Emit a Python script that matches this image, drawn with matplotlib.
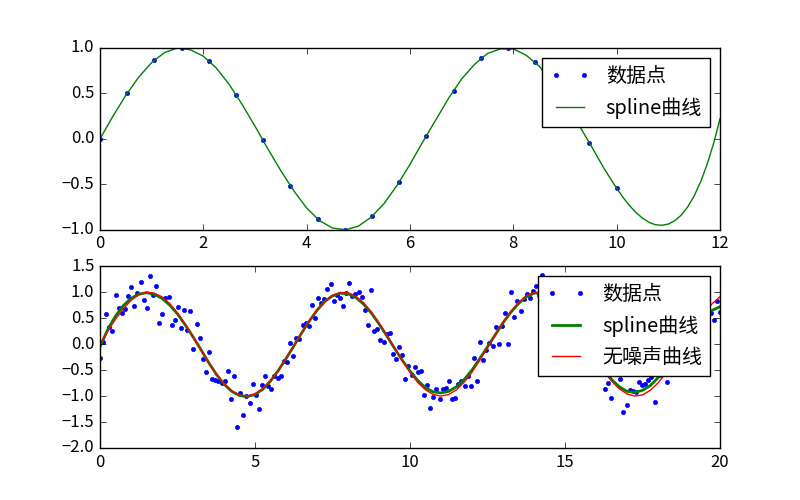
import matplotlib
matplotlib.use('Agg')
import matplotlib.pyplot as plt
import numpy as np

# ---------------- data ----------------
# top panel: sample points and spline curve
top_pts_x = np.linspace(0, 10, 20)
top_pts_y = [0.000, 0.502, 0.869, 1.000, 0.861, 0.488, -0.017, -0.517, -0.879, -0.9997,
             -0.851, -0.474, 0.033, 0.530, 0.886, 0.999, 0.848, 0.458, -0.050, -0.544]

top_curve_x = np.concatenate([np.arange(0, 9.99, 0.25), np.arange(10, 12.001, 0.125)])
top_curve_y = [0.00, 0.25, 0.48, 0.68, 0.84, 0.95, 1.00, 0.98, 0.91, 0.78,
               0.60, 0.38, 0.14, -0.11, -0.35, -0.57, -0.76, -0.90, -0.98, -1.00,
               -0.96, -0.86, -0.71, -0.51, -0.28, -0.03, 0.21, 0.45, 0.66, 0.82,
               0.94, 0.99, 0.99, 0.92, 0.80, 0.62, 0.41, 0.17, -0.07, -0.32,
               -0.544, -0.645, -0.734, -0.810, -0.872, -0.918, -0.944, -0.950, -0.937,
               -0.900, -0.838, -0.748, -0.627, -0.472, -0.281, -0.052, 0.22]

# bottom panel: noisy points
noisy_x = np.linspace(0, 20, 200)
noisy_y = [
    -0.27, 0.05, 0.58, 0.32, 0.26, 0.94, 0.69, 0.60, 0.67, 0.92,
    1.10, 0.73, 0.98, 1.19, 0.85, 0.69, 1.31, 0.94, 1.12, 0.40,
    0.58, 0.88, 0.90, 0.37, 0.47, 0.71, 0.31, 0.66, 0.27, 0.64,
    -0.10, 0.38, 0.12, -0.29, -0.54, -0.15, -0.67, -0.69, -0.71, -0.74,
    -0.71, -0.52, -1.06, -0.62, -1.60, -0.94, -1.37, -0.99, -1.13, -0.77,
    -0.98, -1.25, -0.79, -0.62, -0.80, -0.87, -0.62, -0.66, -0.62, -0.33,
    -0.35, 0.02, -0.23, 0.12, 0.10, 0.37, 0.40, 0.35, 0.75, 0.50,
    0.88, 0.79, 0.87, 1.06, 1.15, 0.83, 0.95, 0.88, 0.73, 0.98,
    1.17, 0.93, 0.96, 1.01, 0.90, 0.66, 0.37, 1.04, 0.25, 0.29,
    0.08, 0.04, 0.19, 0.21, -0.19, -0.29, -0.06, -0.21, -0.67, -0.42,
    -0.60, -0.44, -0.54, -0.52, -0.98, -0.79, -1.23, -1.02, -0.87, -1.06,
    -0.87, -0.85, -0.71, -1.06, -1.04, -0.77, -0.71, -0.80, -0.61, -0.80,
    -0.27, -0.71, 0.04, -0.31, -0.12, 0.02, -0.04, 0.33, 0.00, 0.35,
    0.60, 0.00, 1.00, 0.52, 0.83, 0.63, 0.87, 0.96, 0.88, 1.03,
    1.12, 0.95, 1.33, 1.05, 0.85, 1.00, 0.70, 0.95, 0.60, 0.75,
    0.50, 0.55, 0.30, 0.45, 0.10, 0.25, -0.10, 0.00, -0.30, -0.20,
    -0.45, -0.35, -0.87, -0.75, -1.04, -0.55, -0.50, -0.67, -1.30, -1.17,
    -0.88, -0.90, -0.93, -0.72, -0.78, -0.77, -0.70, -0.64, -1.11, -0.58,
    -0.60, -0.50, -0.72, -0.35, -0.55, -0.20, -0.05, -0.30, 0.10, 0.00,
    0.35, 0.15, 0.50, 0.30, 0.70, 0.45, 0.60, 0.47, 0.83, 0.62]

# bottom panel: spline (green) and noise-free (red) curves
bot_curve_x = np.arange(0, 20.001, 0.25)
spline_y = [-0.05, 0.28, 0.54, 0.74, 0.88, 0.96, 0.99, 0.96, 0.88, 0.75,
            0.58, 0.37, 0.14, -0.10, -0.35, -0.58, -0.77, -0.91, -0.99, -1.01,
            -0.97, -0.87, -0.71, -0.51, -0.28, -0.04, 0.21, 0.44, 0.65, 0.82,
            0.93, 0.98, 0.97, 0.90, 0.77, 0.60, 0.39, 0.16, -0.08, -0.31,
            -0.52, -0.70, -0.84, -0.92, -0.94, -0.91, -0.82, -0.68, -0.50, -0.28,
            -0.05, 0.18, 0.41, 0.61, 0.78, 0.91, 0.98, 0.99, 0.93, 0.81,
            0.64, 0.43, 0.20, -0.04, -0.27, -0.49, -0.68, -0.82, -0.91, -0.93,
            -0.89, -0.80, -0.65, -0.47, -0.26, -0.04, 0.17, 0.37, 0.53, 0.65,
            0.72]
clean_y = [0.00, 0.25, 0.48, 0.68, 0.84, 0.95, 1.00, 0.98, 0.91, 0.78,
           0.60, 0.38, 0.14, -0.11, -0.35, -0.57, -0.76, -0.90, -0.98, -1.00,
           -0.96, -0.86, -0.71, -0.51, -0.28, -0.03, 0.21, 0.45, 0.66, 0.82,
           0.94, 0.99, 0.99, 0.92, 0.80, 0.62, 0.41, 0.17, -0.07, -0.32,
           -0.54, -0.74, -0.88, -0.97, -1.00, -0.97, -0.88, -0.73, -0.54, -0.31,
           -0.07, 0.18, 0.42, 0.63, 0.80, 0.93, 0.99, 0.99, 0.94, 0.82,
           0.65, 0.44, 0.21, -0.04, -0.29, -0.52, -0.71, -0.86, -0.96, -1.00,
           -0.98, -0.89, -0.75, -0.56, -0.34, -0.10, 0.15, 0.39, 0.61, 0.78,
           0.91]

labels = ['数据点', 'spline曲线', '无噪声曲线']
top_xticks = [0, 2, 4, 6, 8, 10, 12]
top_yticks = [-1.0, -0.5, 0.0, 0.5, 1.0]
bot_xticks = [0, 5, 10, 15, 20]
bot_yticks = [-2.0, -1.5, -1.0, -0.5, 0.0, 0.5, 1.0, 1.5]

# ---------------- plot ----------------
plt.style.use('classic')
plt.rcParams['font.family'] = ['Noto Sans CJK SC', 'DejaVu Sans']
plt.rcParams['axes.unicode_minus'] = True

fig = plt.figure(figsize=(8, 5), dpi=100, facecolor='white')
fig.subplots_adjust(left=0.125, right=0.9, top=0.904, bottom=0.104, hspace=0.2)

ax1 = fig.add_subplot(211)
ax1.plot(top_pts_x, top_pts_y, 'b.', label=labels[0])
ax1.plot(top_curve_x, top_curve_y, 'g-', lw=1, label=labels[1])
ax1.set_xlim(0, 12)
ax1.set_ylim(-1, 1)
ax1.set_xticks(top_xticks)
ax1.set_yticks(top_yticks)
ax1.legend(loc='upper right', numpoints=2)

ax2 = fig.add_subplot(212)
ax2.plot(noisy_x, noisy_y, 'b.', label=labels[0])
ax2.plot(bot_curve_x, spline_y, 'g-', lw=2, label=labels[1])
ax2.plot(bot_curve_x, clean_y, 'r-', lw=1, label=labels[2])
ax2.set_xlim(0, 20)
ax2.set_ylim(-2, 1.5)
ax2.set_xticks(bot_xticks)
ax2.set_yticks(bot_yticks)
ax2.legend(loc='upper right', numpoints=2)

fig.savefig('out.png', dpi=100, facecolor='white')
